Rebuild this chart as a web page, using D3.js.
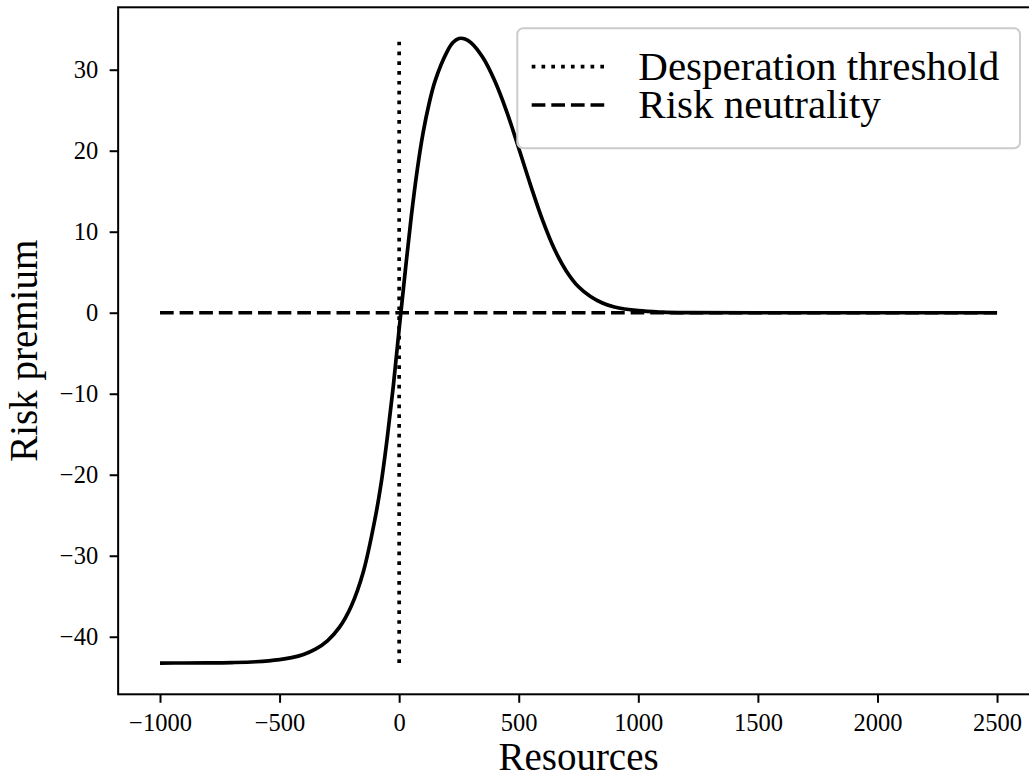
<!DOCTYPE html>
<html>
<head>
<meta charset="utf-8">
<script src="https://cdn.jsdelivr.net/npm/d3@7"></script>
<style>
  html, body { margin: 0; padding: 0; background: #fff; overflow: hidden; }
  svg { display: block; }
  text { font-family: "Liberation Serif", "Times New Roman", serif; fill: #000; }
</style>
</head>
<body>
<script>
// ---- data ----
const resources = [-1000, -900, -800, -700, -600, -500, -450, -400, -350, -300, -250, -200, -150, -100, -75, -50, -25, 0, 25, 50, 75, 100, 125, 150, 200, 225, 250, 275, 300, 350, 400, 450, 500, 550, 600, 650, 700, 750, 800, 850, 900, 1000, 1100, 1200, 1500, 2000, 2500];
const premium   = [-43.25, -43.24, -43.23, -43.19, -43.09, -42.83, -42.58, -42.18, -41.53, -40.5, -38.85, -36.2, -32.0, -25.3, -21.0, -15.5, -9.2, -2.0, 5.0, 11.7, 17.5, 22.2, 25.8, 28.6, 32.2, 33.35, 33.85, 33.8, 33.35, 31.5, 28.6, 24.8, 20.3, 15.7, 11.4, 7.8, 5.1, 3.2, 2.0, 1.2, 0.7, 0.25, 0.08, 0.02, 0, 0, 0];
const xTicks = [-1000, -500, 0, 500, 1000, 1500, 2000, 2500];
const yTicks = [-40, -30, -20, -10, 0, 10, 20, 30];
const thresholdX = 0;
const neutralY = 0;
const legendLabels = ["Desperation threshold", "Risk neutrality"];
const xLabel = "Resources";
const yLabel = "Risk premium";

// ---- layout ----
const W = 1029, H = 777;
const plot = { left: 118.15, right: 1038.9, top: 7.3, bottom: 694.3 };
const lw = 3.7;

const svg = d3.select("body").append("svg").attr("width", W).attr("height", H);

const xmin = d3.min(resources), xmax = d3.max(resources);
const ymin = d3.min(premium), ymax = d3.max(premium);
const xpad = (xmax - xmin) * 0.05, ypad = (ymax - ymin) * 0.05;
const x = d3.scaleLinear().domain([xmin - xpad, xmax + xpad]).range([plot.left, plot.right]);
const y = d3.scaleLinear().domain([ymin - ypad, ymax + ypad]).range([plot.bottom, plot.top]);

const fmt = d3.format("d"); // d3 v7 uses U+2212 minus

// curve
const data = resources.map((r, i) => [r, premium[i]]);
svg.append("path")
  .datum(data)
  .attr("fill", "none")
  .attr("stroke", "#000")
  .attr("stroke-width", lw)
  .attr("stroke-linejoin", "round")
  .attr("stroke-linecap", "butt")
  .attr("d", d3.line().x(d => x(d[0])).y(d => y(d[1])).curve(d3.curveCatmullRom.alpha(0.5)));

// desperation threshold (dotted vertical line, from min to max of curve)
svg.append("line")
  .attr("x1", x(thresholdX)).attr("x2", x(thresholdX))
  .attr("y1", y(ymin)).attr("y2", y(ymax))
  .attr("stroke", "#000").attr("stroke-width", lw)
  .attr("stroke-dasharray", `${lw} ${1.65 * lw}`);

// risk neutrality (dashed horizontal line)
svg.append("line")
  .attr("x1", x(xmin)).attr("x2", x(xmax))
  .attr("y1", y(neutralY)).attr("y2", y(neutralY))
  .attr("stroke", "#000").attr("stroke-width", lw)
  .attr("stroke-dasharray", `${3.7 * lw} ${1.6 * lw}`);

// axes
const xAxis = d3.axisBottom(x).tickValues(xTicks).tickFormat(fmt).tickSize(8.5).tickPadding(11);
const yAxis = d3.axisLeft(y).tickValues(yTicks).tickFormat(fmt).tickSize(8.5).tickPadding(11.5);

const gx = svg.append("g").attr("transform", `translate(0,${plot.bottom})`).call(xAxis);
const gy = svg.append("g").attr("transform", `translate(${plot.left},0)`).call(yAxis);
[gx, gy].forEach(g => {
  g.select(".domain").remove();
  g.selectAll(".tick line").attr("stroke", "#000").attr("stroke-width", 2);
  g.selectAll(".tick text").style("font-family", '"Liberation Serif", serif').style("font-size", "24.5px").attr("fill", "#000");
});

// frame (spines)
svg.append("rect")
  .attr("x", plot.left).attr("y", plot.top)
  .attr("width", plot.right - plot.left).attr("height", plot.bottom - plot.top)
  .attr("fill", "none").attr("stroke", "#000").attr("stroke-width", 2);

// axis labels
svg.append("text")
  .attr("x", (plot.left + plot.right) / 2).attr("y", 770)
  .attr("text-anchor", "middle").style("font-size", "39px")
  .text(xLabel);
svg.append("text")
  .attr("transform", `translate(37,${(plot.top + plot.bottom) / 2}) rotate(-90)`)
  .attr("text-anchor", "middle").style("font-size", "39px")
  .text(yLabel);

// legend
const leg = svg.append("g");
leg.append("rect")
  .attr("x", 517.3).attr("y", 28.3).attr("width", 1020 - 517.3).attr("height", 148.3 - 28.3)
  .attr("rx", 6).attr("ry", 6)
  .attr("fill", "#fff").attr("fill-opacity", 0.8)
  .attr("stroke", "#cccccc").attr("stroke-width", 2);
const rowsY = [66.7, 105];
const dashes = [`${lw} ${1.65 * lw}`, `${3.7 * lw} ${1.6 * lw}`];
legendLabels.forEach((lab, i) => {
  leg.append("line")
    .attr("x1", 531.7).attr("x2", 608.3)
    .attr("y1", rowsY[i]).attr("y2", rowsY[i])
    .attr("stroke", "#000").attr("stroke-width", lw)
    .attr("stroke-dasharray", dashes[i]);
  leg.append("text")
    .attr("x", 638.3).attr("y", rowsY[i] + 13)
    .style("font-size", "41px")
    .text(lab);
});
</script>
</body>
</html>
